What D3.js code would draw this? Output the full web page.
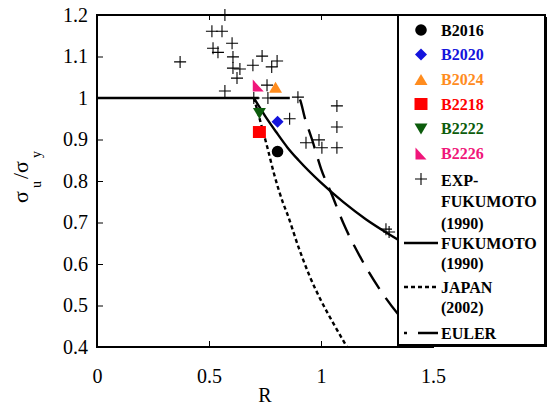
<!DOCTYPE html>
<html><head><meta charset="utf-8">
<script src="https://cdn.jsdelivr.net/npm/d3@7"></script>
<style>body{margin:0;background:#fff}svg{display:block}</style>
</head><body>
<svg id="c" width="549" height="407"></svg>
<script>
// ---------- data ----------
const seriesNames  = ["B2016","B2020","B2024","B2218","B2222","B2226"];
const seriesColors = ["#000000","#1414dc","#ff8c1e","#ff0000","#0c5c0c","#f0167a"];
const seriesShapes = ["circle","diamond","triangleUp","square","triangleDown","rightTriangle"];
const seriesR = [0.806, 0.806, 0.797, 0.725, 0.725, 0.72];
const seriesV = [0.871, 0.943, 1.026, 0.918, 0.964, 1.03];

const expR = [0.571,0.513,0.558,0.603,0.518,0.54,0.371,0.607,0.607,0.638,0.625,0.571,
              0.737,0.696,0.78,0.804,0.759,0.763,0.70,0.897,0.86,1.071,1.071,1.071,
              0.933,0.991,1.004,1.29,1.304];
const expV = [1.2,1.161,1.161,1.132,1.12,1.11,1.087,1.099,1.072,1.07,1.048,1.017,
              1.101,1.079,1.075,1.089,1.031,1.0,1.0,1.002,0.95,0.981,0.93,0.88,
              0.892,0.899,0.88,0.684,0.677];

const fukR = [0, 0.7, 0.75, 0.8, 0.85, 0.9, 1.0, 1.1, 1.2, 1.3, 1.4, 1.5];
const fukV = [1, 1, 0.957, 0.918, 0.881, 0.85, 0.796, 0.749, 0.708, 0.673, 0.641, 0.612];

const japR = [0.7, 0.72, 0.74, 0.76, 0.79, 0.83, 0.85, 0.9, 0.95, 1.0, 1.05, 1.116];
const japV = [1, 0.962, 0.922, 0.882, 0.818, 0.748, 0.72, 0.64, 0.57, 0.512, 0.462, 0.4];

const eulR = [0.7, 0.9, 0.93, 0.96, 1.0, 1.05, 1.1, 1.175, 1.255, 1.34, 1.42, 1.5];
const eulV = [1, 1, 0.948, 0.9, 0.83, 0.765, 0.698, 0.617, 0.545, 0.482, 0.438, 0.4];

const xTicks = [0, 0.5, 1, 1.5];
const xTickLabels = ["0", "0.5", "1", "1.5"];
const yTicks = [0.4, 0.5, 0.6, 0.7, 0.8, 0.9, 1.0, 1.1, 1.2];
const yTickLabels = ["0.4","0.5","0.6","0.7","0.8","0.9","1","1.1","1.2"];

const lineLabels = [["FUKUMOTO","(1990)"],["JAPAN","(2002)"],["EULER"]];
const lineDash = [null, "4,3", "20,11"];
const expLabel = ["EXP-","FUKUMOTO","(1990)"];

// ---------- layout ----------
const FONT = '"Liberation Serif"';
const svg = d3.select("#c");
const L = 97, R = 433, T = 15, B = 347;
const x = d3.scaleLinear().domain([0, 1.5]).range([L, R]);
const y = d3.scaleLinear().domain([0.4, 1.2]).range([B, T]);

function shapePath(s) {
  switch (s) {
    case "circle": return d3.symbol(d3.symbolCircle, Math.PI * 5.8 * 5.8)();
    case "diamond": return "M0,-6L6,0L0,6L-6,0Z";
    case "triangleUp": return "M0,-5.5L6.5,5.5L-6.5,5.5Z";
    case "triangleDown": return "M-6.5,-5L6.5,-5L0,6Z";
    case "square": return "M-6.5,-6h13v12h-13Z";
    case "rightTriangle": return "M-5.5,-6L-5.5,6L5.5,6Z";
  }
}
const crossPath = "M-6,0H6M0,-6V6";

// axes
const yAxis = d3.axisLeft(y).tickValues(yTicks).tickFormat((d, i) => yTickLabels[i])
  .tickSize(-6).tickPadding(9);
const gy = svg.append("g").attr("transform", `translate(${L},0)`).call(yAxis);
const xAxis = d3.axisBottom(x).tickValues(xTicks).tickFormat((d, i) => xTickLabels[i])
  .tickSize(-6).tickPadding(22);
const gx = svg.append("g").attr("transform", `translate(0,${B})`).call(xAxis);
const gt = svg.append("g").attr("transform", `translate(0,${T})`)
  .call(d3.axisTop(x).tickValues([0.5, 1]).tickSize(-5).tickFormat(""));
const gr = svg.append("g").attr("transform", `translate(${R},0)`)
  .call(d3.axisRight(y).tickValues(yTicks).tickSize(-6).tickFormat(""));
[gy, gx, gt, gr].forEach(g => {
  g.attr("font-family", null).attr("font-size", null);
  g.select(".domain").remove();
  g.selectAll(".tick line").attr("stroke", "#000").attr("stroke-width", 1);
  g.selectAll("text").style("font-family", FONT).style("font-size", "20px").attr("fill", "#000");
});
svg.append("rect").attr("x", L).attr("y", T).attr("width", R - L).attr("height", B - T)
  .attr("fill", "none").attr("stroke", "#000").attr("stroke-width", 2);

// axis titles
svg.append("text").attr("x", (L + R) / 2).attr("y", 402).attr("text-anchor", "middle")
  .style("font-family", FONT).style("font-size", "20px").text("R");
const yl = svg.append("text").attr("transform", "translate(28,177) rotate(-90)")
  .attr("text-anchor", "middle").style("font-family", FONT).style("font-size", "22px");
yl.append("tspan").text("σ");
yl.append("tspan").attr("dx", 3).attr("dy", 13).style("font-size", "14px").text("u");
yl.append("tspan").attr("dx", 2).attr("dy", -13).text("/σ");
yl.append("tspan").attr("dx", 3).attr("dy", 13).style("font-size", "14px").text("y");

// curves
const line = d3.line().x(d => x(d[0])).y(d => y(d[1])).curve(d3.curveMonotoneX);
svg.append("line").attr("x1", x(0)).attr("x2", x(fukR[1])).attr("y1", y(1)).attr("y2", y(1))
  .attr("stroke", "#000").attr("stroke-width", 2.4);
const curves = [
  { r: fukR.slice(1), v: fukV.slice(1), dash: lineDash[0], off: 0 },
  { r: japR, v: japV, dash: lineDash[1], off: 0 },
  { r: eulR, v: eulV, dash: lineDash[2], off: 15 }
];
curves.forEach(c => {
  svg.append("path").datum(c.r.map((r, i) => [r, c.v[i]]))
    .attr("d", line).attr("fill", "none").attr("stroke", "#000")
    .attr("stroke-width", 2.4).attr("stroke-dasharray", c.dash)
    .attr("stroke-dashoffset", c.off);
});

// experimental crosses
svg.append("g").selectAll("path").data(expR.map((r, i) => [r, expV[i]])).join("path")
  .attr("transform", d => `translate(${x(d[0])},${y(d[1])})`)
  .attr("d", crossPath).attr("stroke", "#000").attr("stroke-width", 1.1).attr("fill", "none");

// specimen markers
svg.append("g").selectAll("path").data(seriesNames).join("path")
  .attr("transform", (d, i) => `translate(${x(seriesR[i])},${y(seriesV[i])})`)
  .attr("d", (d, i) => shapePath(seriesShapes[i]))
  .attr("fill", (d, i) => seriesColors[i]);

// legend
const lg = svg.append("g");
lg.append("rect").attr("x", 400).attr("y", 17).attr("width", 147).attr("height", 330).attr("fill", "#000");
lg.append("rect").attr("x", 398).attr("y", 15).attr("width", 147).attr("height", 330)
  .attr("fill", "#fff").attr("stroke", "#000").attr("stroke-width", 2);
const mx = 421, tx = 441;
const rowY = [30, 54.5, 79.5, 104, 128.5, 153.5];
function ltext(xx, yy, t, col) {
  lg.append("text").attr("x", xx).attr("y", yy).attr("dy", "0.35em")
    .style("font-family", FONT).style("font-weight", "bold").style("font-size", "16px")
    .attr("fill", col || "#000").text(t);
}
seriesNames.forEach((n, i) => {
  lg.append("path").attr("transform", `translate(${mx},${rowY[i]})`)
    .attr("d", shapePath(seriesShapes[i])).attr("fill", seriesColors[i]);
  ltext(tx, rowY[i], n, seriesColors[i]);
});
lg.append("path").attr("transform", `translate(${mx},179)`).attr("d", crossPath)
  .attr("stroke", "#000").attr("stroke-width", 1.1);
expLabel.forEach((t, j) => ltext(tx, 180 + j * 21.5, t));
const lineRowY = [243, 287, 333];
lineLabels.forEach((lines, k) => {
  lg.append("line").attr("x1", 404).attr("x2", 438).attr("y1", lineRowY[k]).attr("y2", lineRowY[k])
    .attr("stroke", "#000").attr("stroke-width", 2.4)
    .attr("stroke-dasharray", lineDash[k]).attr("stroke-dashoffset", k === 2 ? 17 : 0);
  lines.forEach((t, j) => ltext(tx, lineRowY[k] + j * 20.5, t));
});
</script>
</body></html>
